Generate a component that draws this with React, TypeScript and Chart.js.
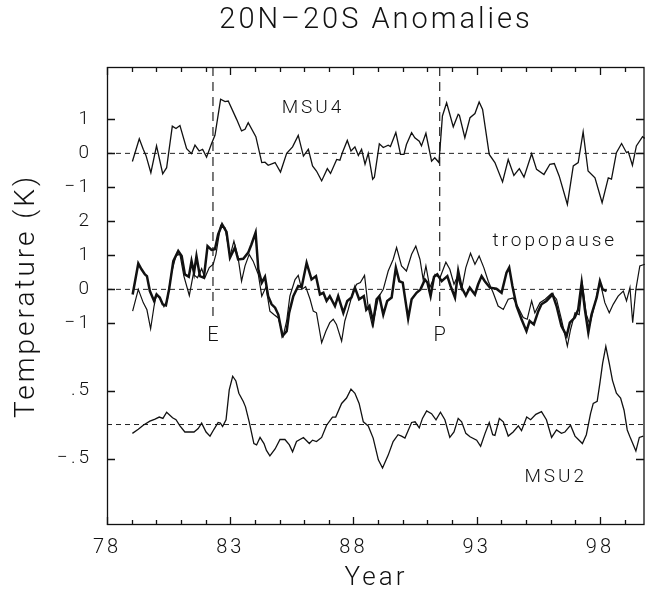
import React, { useEffect, useRef } from "react";
import { Chart, registerables } from "chart.js";

Chart.register(...registerables);

const FONT = "Roboto, 'DejaVu Sans', sans-serif";

// ---------- axis data ----------
const X_MIN = 78;
const X_MAX = 99.83;
const xTickYears = [78, 79, 80, 81, 82, 83, 84, 85, 86, 87, 88, 89, 90, 91, 92, 93, 94, 95, 96, 97, 98, 99];
const xLabelYears = [78, 83, 88, 93, 98];

// panel layout (in stacked "units"; 1 unit = 1 K for MSU4/tropopause, 0.5 K for MSU2)
const Y_MAX = 13.47;
const MSU4_ZERO = 10.93;
const TROP_ZERO = 6.93;
const MSU2_ZERO = 2.955;
const MSU2_FACTOR = 2;

const msu4TickValues = [1, 0, -1];
const tropTickValues = [2, 1, 0, -1];
const msu2TickValues = [0.5, -0.5];

// ---------- series data (K) ----------
const msu4Years = [79.03, 79.31, 79.47, 79.58, 79.78, 80.01, 80.26, 80.42, 80.65, 80.8, 80.96, 81.23, 81.43, 81.57, 81.74, 81.88, 82.04, 82.24, 82.38, 82.61, 82.79, 82.92, 83.26, 83.46, 83.6, 83.73, 84.04, 84.28, 84.41, 84.54, 84.82, 85.04, 85.29, 85.53, 85.76, 85.97, 86.17, 86.34, 86.5, 86.71, 86.94, 87.07, 87.32, 87.45, 87.55, 87.75, 87.9, 88.06, 88.2, 88.33, 88.47, 88.6, 88.78, 88.85, 89.05, 89.21, 89.41, 89.5, 89.72, 89.91, 90.05, 90.15, 90.36, 90.49, 90.67, 90.76, 90.94, 91.17, 91.3, 91.47, 91.61, 91.78, 91.91, 92.05, 92.25, 92.3, 92.52, 92.73, 92.93, 93.1, 93.24, 93.51, 93.74, 94.05, 94.28, 94.51, 94.73, 94.92, 95.23, 95.43, 95.73, 95.97, 96.15, 96.35, 96.68, 96.92, 97.12, 97.32, 97.52, 97.8, 98.09, 98.34, 98.47, 98.67, 98.88, 99.08, 99.15, 99.32, 99.48, 99.73, 99.82];
const msu4Values = [-0.24, 0.43, 0.12, -0.06, -0.57, 0.22, -0.6, -0.42, 0.8, 0.73, 0.82, 0.14, -0.01, 0.24, 0.07, 0.12, -0.11, 0.28, 0.53, 1.59, 1.52, 1.54, 1.0, 0.66, 0.71, 0.9, 0.49, -0.27, -0.26, -0.35, -0.27, -0.55, 0.0, 0.19, 0.53, -0.08, 0.12, -0.37, -0.52, -0.81, -0.45, -0.59, -0.18, -0.2, 0.02, 0.38, 0.07, 0.19, -0.06, 0.12, -0.32, 0.0, -0.76, -0.7, 0.28, 0.17, 0.24, 0.2, 0.61, -0.03, -0.03, 0.26, 0.61, 0.46, 0.36, 0.22, 0.59, -0.23, -0.13, -0.27, 1.1, 1.49, 1.15, 0.78, 1.15, 1.12, 0.46, 1.05, 1.17, 1.51, 1.29, -0.03, -0.27, -0.84, -0.18, -0.65, -0.45, -0.7, -0.01, -0.47, -0.62, -0.32, -0.3, -0.67, -1.5, -0.37, -0.27, 0.63, -0.52, -0.72, -1.45, -0.72, -0.76, 0.02, 0.29, 0.02, 0.05, -0.35, 0.22, 0.49, 0.44];

const tropThinYears = [79.04, 79.27, 79.47, 79.62, 79.77, 79.91, 80.01, 80.15, 80.31, 80.44, 80.62, 80.8, 80.96, 81.12, 81.34, 81.5, 81.67, 81.84, 81.97, 82.15, 82.31, 82.42, 82.61, 82.79, 82.99, 83.15, 83.32, 83.46, 83.6, 83.77, 83.93, 84.14, 84.28, 84.45, 84.61, 84.77, 84.95, 85.15, 85.29, 85.42, 85.63, 85.76, 85.9, 86.06, 86.24, 86.37, 86.5, 86.71, 86.88, 87.04, 87.18, 87.31, 87.52, 87.65, 87.79, 87.99, 88.13, 88.28, 88.45, 88.6, 88.77, 89.01, 89.21, 89.41, 89.61, 89.75, 89.95, 90.15, 90.36, 90.53, 90.7, 90.83, 90.94, 91.1, 91.31, 91.51, 91.75, 91.91, 92.08, 92.22, 92.39, 92.56, 92.75, 92.93, 93.1, 93.29, 93.47, 93.67, 93.87, 94.08, 94.28, 94.48, 94.69, 94.89, 95.05, 95.23, 95.36, 95.57, 95.78, 96.04, 96.24, 96.44, 96.68, 96.81, 96.99, 97.16, 97.29, 97.45, 97.59, 97.79, 98.0, 98.2, 98.38, 98.54, 98.74, 98.95, 99.08, 99.22, 99.33, 99.46, 99.62, 99.82];
const tropThinValues = [-0.64, 0.0, -0.39, -0.6, -1.16, -0.49, -0.13, -0.27, -0.51, -0.34, 0.49, 1.0, 1.03, 0.39, -0.18, 0.44, 0.34, 0.61, 0.34, 0.64, 0.74, 1.03, 1.88, 1.81, 0.98, 1.42, 0.93, 0.24, 0.69, 1.03, 0.83, 0.44, -0.2, 0.07, -0.64, -0.74, -0.84, -1.37, -0.93, -0.2, 0.29, 0.41, 0.0, 0.08, -0.29, -0.64, -0.69, -1.57, -1.23, -0.98, -0.88, -1.03, -1.52, -0.93, -0.59, -0.05, 0.15, 0.2, 0.41, -0.54, -1.08, -0.24, 0.0, 0.54, 0.88, 1.23, 0.69, 0.54, 1.03, 1.27, 0.88, 0.29, 0.69, 0.05, 0.44, 0.34, 0.8, 0.59, 0.15, 0.38, 0.0, 0.64, 1.06, 0.74, 0.98, 0.64, 0.24, -0.1, -0.49, -0.59, -0.29, -0.25, -0.54, -0.83, -0.88, -0.34, -0.69, -0.39, -0.29, -0.12, -0.29, -0.88, -1.67, -1.18, -0.69, -0.74, 0.15, -0.74, -1.03, -0.44, 0.24, -0.39, -0.69, -0.44, -0.2, -0.05, -0.34, 0.05, -0.98, 0.0, 0.69, 0.74];

const tropThickYears = [79.04, 79.27, 79.4, 79.54, 79.62, 79.74, 79.91, 80.01, 80.14, 80.26, 80.39, 80.52, 80.69, 80.89, 81.03, 81.16, 81.32, 81.43, 81.53, 81.63, 81.77, 81.93, 82.08, 82.24, 82.38, 82.51, 82.67, 82.85, 82.99, 83.19, 83.32, 83.53, 83.73, 83.86, 84.03, 84.14, 84.28, 84.41, 84.54, 84.68, 84.82, 84.95, 85.12, 85.29, 85.39, 85.56, 85.76, 85.9, 86.1, 86.3, 86.48, 86.64, 86.78, 86.91, 87.04, 87.25, 87.38, 87.59, 87.75, 87.92, 88.06, 88.23, 88.42, 88.52, 88.65, 88.8, 88.94, 89.05, 89.21, 89.37, 89.55, 89.72, 89.86, 90.0, 90.22, 90.36, 90.56, 90.72, 90.9, 91.0, 91.13, 91.27, 91.4, 91.58, 91.81, 91.94, 92.12, 92.25, 92.39, 92.56, 92.72, 92.93, 93.06, 93.2, 93.33, 93.54, 93.8, 94.01, 94.21, 94.32, 94.45, 94.62, 94.82, 95.02, 95.15, 95.32, 95.5, 95.63, 95.83, 96.08, 96.24, 96.44, 96.65, 96.78, 96.98, 97.12, 97.26, 97.39, 97.53, 97.66, 97.87, 98.0, 98.11, 98.27];
const tropThickValues = [-0.15, 0.76, 0.59, 0.44, 0.39, -0.05, -0.34, -0.15, -0.24, -0.44, -0.47, 0.0, 0.83, 1.13, 0.98, 0.44, 0.37, 0.83, 0.49, 0.98, 0.39, 0.34, 1.27, 1.16, 1.18, 1.62, 1.91, 1.69, 0.93, 1.23, 0.88, 0.9, 1.08, 1.32, 1.67, 0.59, 0.2, 0.37, -0.2, -0.44, -0.54, -0.74, -1.37, -1.23, -0.69, -0.2, 0.1, 0.07, 0.78, 0.29, 0.39, -0.15, -0.1, -0.34, -0.2, -0.49, -0.2, -0.69, -0.34, -0.24, 0.05, -0.29, -0.2, -0.6, -0.49, -0.96, -0.29, -0.2, -0.74, -0.34, -0.24, 0.64, 0.24, 0.2, -0.86, -0.29, -0.1, 0.0, 0.29, 0.2, -0.2, 0.37, 0.44, 0.24, 0.39, 0.1, -0.24, 0.54, 0.05, -0.18, 0.05, -0.15, 0.15, 0.39, 0.24, 0.05, 0.02, -0.1, 0.49, 0.64, 0.1, -0.49, -0.88, -1.23, -0.93, -1.03, -0.64, -0.44, -0.34, -0.15, -0.49, -1.08, -1.37, -0.98, -0.83, -0.59, 0.2, -0.59, -1.27, -0.74, -0.24, 0.24, 0.0, -0.05];

const msu2Years = [79.03, 79.27, 79.47, 79.74, 79.95, 80.12, 80.27, 80.42, 80.66, 80.8, 80.96, 81.16, 81.53, 81.7, 81.84, 82.02, 82.18, 82.34, 82.51, 82.6, 82.69, 82.83, 82.96, 83.1, 83.23, 83.35, 83.53, 83.62, 83.77, 83.96, 84.07, 84.21, 84.37, 84.47, 84.61, 84.82, 85.02, 85.22, 85.4, 85.53, 85.69, 85.97, 86.21, 86.34, 86.5, 86.71, 86.91, 87.15, 87.28, 87.52, 87.72, 87.9, 88.06, 88.23, 88.4, 88.6, 88.8, 89.01, 89.18, 89.41, 89.61, 89.81, 89.95, 90.09, 90.36, 90.5, 90.67, 90.8, 90.97, 91.17, 91.35, 91.53, 91.71, 91.91, 92.08, 92.25, 92.39, 92.56, 92.73, 93.0, 93.16, 93.34, 93.51, 93.65, 93.74, 93.92, 94.08, 94.28, 94.48, 94.69, 94.82, 95.03, 95.19, 95.4, 95.63, 95.83, 96.04, 96.24, 96.44, 96.58, 96.81, 96.99, 97.29, 97.45, 97.62, 97.73, 97.89, 98.0, 98.11, 98.24, 98.38, 98.51, 98.67, 98.84, 98.98, 99.11, 99.24, 99.46, 99.6, 99.76];
const msu2Values = [-0.13, -0.07, -0.01, 0.05, 0.08, 0.11, 0.09, 0.18, 0.1, 0.07, -0.02, -0.11, -0.11, -0.06, 0.02, -0.11, -0.17, -0.07, 0.03, 0.02, -0.03, 0.07, 0.51, 0.71, 0.64, 0.46, 0.34, 0.26, 0.04, -0.28, -0.3, -0.19, -0.28, -0.38, -0.46, -0.36, -0.22, -0.22, -0.3, -0.4, -0.25, -0.19, -0.28, -0.23, -0.25, -0.19, -0.01, 0.11, 0.11, 0.31, 0.39, 0.52, 0.46, 0.31, 0.04, -0.02, -0.2, -0.52, -0.64, -0.45, -0.25, -0.15, -0.17, -0.2, 0.03, 0.04, -0.05, 0.09, 0.2, 0.16, 0.07, 0.18, 0.07, -0.19, -0.11, 0.09, 0.04, -0.13, -0.18, -0.23, -0.32, -0.13, 0.03, -0.15, -0.16, 0.09, 0.04, -0.17, -0.11, -0.02, -0.09, 0.11, 0.07, 0.15, 0.19, 0.07, -0.19, -0.08, -0.13, -0.11, -0.01, -0.17, -0.28, -0.15, 0.16, 0.31, 0.34, 0.61, 0.9, 1.15, 0.9, 0.65, 0.46, 0.39, 0.21, -0.08, -0.2, -0.39, -0.19, -0.17];

// event markers (El Chichon, Pinatubo)
const eventYears = [82.3, 91.5];
const eventLabels = ["E", "P"];
const EVENT_LINE_BOTTOM = 6.0;
const EVENT_LABEL_Y = 5.56;

// in-plot text labels
const panelLabels = [
  { text: "MSU4", x: 86.36, y: 12.26 },
  { text: "tropopause", x: 96.17, y: 8.35 },
  { text: "MSU2", x: 96.21, y: 1.41 },
];

function fmtTick(v: number): string {
  if (v === 0) return "0";
  const sign = v < 0 ? "\u2212" : "";
  const a = Math.abs(v);
  if (a < 1) return sign + "." + String(a).split(".")[1];
  return sign + String(a);
}

const yTickDefs = [
  ...msu4TickValues.map((v) => ({ pos: MSU4_ZERO + v, label: fmtTick(v) })),
  ...tropTickValues.map((v) => ({ pos: TROP_ZERO + v, label: fmtTick(v) })),
  ...msu2TickValues.map((v) => ({ pos: MSU2_ZERO + v * MSU2_FACTOR, label: fmtTick(v) })),
].sort((a, b) => a.pos - b.pos);

const toPoints = (xs: number[], ys: number[], zero: number, factor = 1) =>
  xs.map((x, i) => ({ x, y: zero + ys[i] * factor }));

export default function App() {
  const ref = useRef<HTMLCanvasElement | null>(null);

  useEffect(() => {
    if (!ref.current) return;
    const lineBase = {
      type: "line" as const,
      pointRadius: 0,
      tension: 0,
      borderColor: "#111",
      fill: false,
    };
    const zeroLine = (zero: number) => ({
      ...lineBase,
      data: [
        { x: X_MIN, y: zero },
        { x: X_MAX, y: zero },
      ],
      borderWidth: 1,
      borderDash: [5, 4],
      borderColor: "#222",
    });
    const eventLine = (yr: number) => ({
      ...lineBase,
      data: [
        { x: yr, y: Y_MAX },
        { x: yr, y: EVENT_LINE_BOTTOM },
      ],
      borderWidth: 1.2,
      borderDash: [9, 6],
      borderColor: "#222",
    });

    const spacing = {
      id: "spacing",
      beforeLayout(chart: any) {
        chart.ctx.letterSpacing = "3px";
      },
      beforeDraw(chart: any) {
        chart.ctx.letterSpacing = "3px";
      },
    };

    const frame = {
      id: "frame",
      afterDraw(chart: any) {
        const { ctx, chartArea } = chart;
        const { left, right, top, bottom } = chartArea;
        const xs = chart.scales.x;
        const ys = chart.scales.y;
        ctx.save();
        ctx.strokeStyle = "#111";
        ctx.lineWidth = 1.3;
        ctx.setLineDash([]);
        ctx.strokeRect(left + 0.5, top + 0.5, right - left - 1.5, bottom - top - 1);
        ctx.beginPath();
        xs.ticks.forEach((t: any) => {
          const px = Math.round(xs.getPixelForValue(t.value)) + 0.5;
          const major = xLabelYears.includes(t.value);
          const len = major ? 8 : 5;
          ctx.moveTo(px, bottom);
          ctx.lineTo(px, bottom - len);
          ctx.moveTo(px, top);
          ctx.lineTo(px, top + len);
        });
        ys.ticks.forEach((t: any) => {
          const py = Math.round(ys.getPixelForValue(t.value)) + 0.5;
          ctx.moveTo(left, py);
          ctx.lineTo(left + 8, py);
          ctx.moveTo(right - 1, py);
          ctx.lineTo(right - 9, py);
        });
        ctx.stroke();

        ctx.fillStyle = "#111";
        ctx.letterSpacing = "3px";
        ctx.textAlign = "center";
        ctx.textBaseline = "middle";
        ctx.font = `300 19px ${FONT}`;
        panelLabels.forEach((l) => {
          ctx.fillText(l.text, xs.getPixelForValue(l.x), ys.getPixelForValue(l.y));
        });
        ctx.font = `300 20px ${FONT}`;
        eventYears.forEach((yr, i) => {
          ctx.fillText(eventLabels[i], xs.getPixelForValue(yr) + 1.5, ys.getPixelForValue(EVENT_LABEL_Y));
        });
        ctx.restore();
      },
    };

    const chart = new Chart(ref.current, {
      type: "line",
      data: {
        datasets: [
          { ...lineBase, label: "MSU4", data: toPoints(msu4Years, msu4Values, MSU4_ZERO), borderWidth: 1.3 },
          { ...lineBase, label: "tropopause (thick)", data: toPoints(tropThickYears, tropThickValues, TROP_ZERO), borderWidth: 2.5 },
          { ...lineBase, label: "tropopause (thin)", data: toPoints(tropThinYears, tropThinValues, TROP_ZERO), borderWidth: 1.2 },
          { ...lineBase, label: "MSU2", data: toPoints(msu2Years, msu2Values, MSU2_ZERO, MSU2_FACTOR), borderWidth: 1.3 },
          zeroLine(MSU4_ZERO),
          zeroLine(TROP_ZERO),
          zeroLine(MSU2_ZERO),
          ...eventYears.map(eventLine),
        ] as any,
      },
      options: {
        responsive: false,
        animation: false,
        devicePixelRatio: 1,
        layout: { padding: 0 },
        plugins: {
          legend: { display: false },
          tooltip: { enabled: false },
          title: {
            display: true,
            text: "20N\u201320S Anomalies",
            color: "#111",
            fullSize: false,
            font: { family: FONT, size: 29, weight: "300" as any, lineHeight: 1.2 },
            padding: { top: 3, bottom: 29.2 },
          },
        },
        scales: {
          x: {
            type: "linear",
            min: X_MIN,
            max: X_MAX,
            grid: { display: false, drawTicks: false },
            border: { display: false },
            afterBuildTicks: (scale: any) => {
              scale.ticks = xTickYears.map((v) => ({ value: v }));
            },
            afterFit: (scale: any) => {
              scale.height = 71;
            },
            ticks: {
              autoSkip: false,
              maxRotation: 0,
              padding: 11,
              color: "#111",
              font: { family: FONT, size: 20, weight: "300" as any },
              callback: (v: any) => (xLabelYears.includes(Number(v)) ? String(v) : ""),
            },
            title: {
              display: true,
              text: "Year",
              color: "#111",
              font: { family: FONT, size: 26, weight: "300" as any, lineHeight: 1.2 },
              padding: { top: 0, bottom: 2.4 },
            },
          },
          y: {
            type: "linear",
            min: 0,
            max: Y_MAX,
            grid: { display: false, drawTicks: false },
            border: { display: false },
            afterBuildTicks: (scale: any) => {
              scale.ticks = yTickDefs.map((d) => ({ value: d.pos }));
            },
            afterFit: (scale: any) => {
              scale.width = 107;
            },
            ticks: {
              autoSkip: false,
              padding: 15,
              color: "#111",
              font: { family: FONT, size: 19, weight: "300" as any },
              callback: (_v: any, i: number) => yTickDefs[i]?.label ?? "",
            },
            title: {
              display: true,
              text: "Temperature (K)",
              color: "#111",
              font: { family: FONT, size: 28, weight: "300" as any, lineHeight: 1.2 },
              padding: { top: 10, bottom: 0 },
            },
          },
        },
      },
      plugins: [spacing, frame],
    });
    return () => chart.destroy();
  }, []);

  return (
    <div style={{ position: "fixed", left: 0, top: 0, width: 645, height: 596, background: "#fff" }}>
      <canvas ref={ref} width={645} height={596} style={{ display: "block", width: 645, height: 596 }} />
    </div>
  );
}
